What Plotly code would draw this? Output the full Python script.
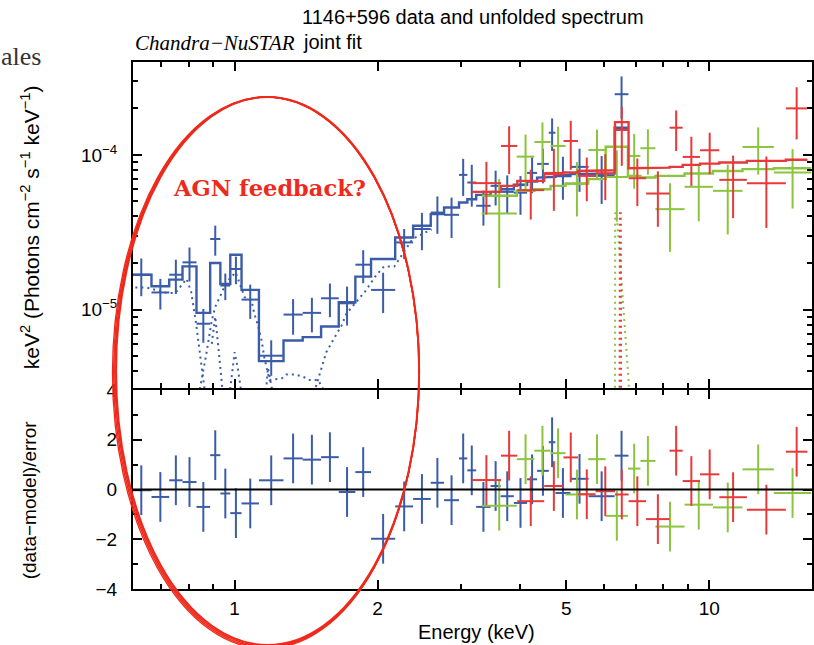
import numpy as np
import plotly.graph_objects as go

# ---------------- data ----------------
# Chandra ACIS (blue): bin edges (keV), unfolded flux, 1-sigma error, model, residual
acis_edges = [0.605, 0.668, 0.728, 0.7765, 0.831, 0.888, 0.933, 0.979, 1.034, 1.125,
              1.2675, 1.391, 1.521, 1.657, 1.796, 1.938, 2.179, 2.377, 2.589, 2.762,
              2.970, 3.092, 3.228, 3.462, 3.634, 3.875, 4.132, 4.337, 4.590, 4.741,
              5.098, 5.570, 6.318, 6.757]
acis_flux = [1.68, 1.29, 1.68, 2.02, 0.81, 2.86, 1.43, 1.83, 1.16, 0.503, 0.928, 0.952,
             1.183, 1.098, 1.951, 1.34, 2.718,
             3.32, 4.24, 4.10, 7.43, 6.63, 4.69, 6.31, 5.77, 5.7, 7.65, 8.75, 13.92,
             7.43, 8.37, 7.32, 24.7]
acis_err = [0.46, 0.29, 0.42, 0.50, 0.20, 0.63, 0.28, 0.37, 0.29, 0.13, 0.24, 0.24,
            0.29, 0.31, 0.47, 0.39, 0.6,
            0.9, 1.15, 1.2, 2.0, 2.0, 1.2, 1.6, 1.6, 1.6, 2.0, 2.2, 3.3, 2.3, 2.6, 2.5, 7.5]
acis_model = [1.68, 1.414, 1.561, 1.903, 0.952, 2.0, 1.464, 2.264, 1.34, 0.464, 0.631,
              0.663, 0.777, 1.114, 1.632, 2.124, 2.926,
              3.48, 4.14, 4.57, 4.92, 5.17, 5.52, 5.77, 6.0, 6.41, 6.73, 7.14, 7.21,
              7.29, 7.51, 7.58, 15.0]
acis_resid = [-0.03, -0.3, 0.37, 0.3, -0.7, 1.38, -0.16, -0.95, -0.56, 0.37, 1.25, 1.2,
              1.3, -0.1, 0.7, -1.98, -0.68,
              -0.38, 0.27, -0.43, 1.25, 0.77, -0.7, 0.14, -0.27, -0.54, 0.41, 0.75, 1.9,
              -0.14, 0.43, -0.27, 1.36]

# NuSTAR FPMA (red)
fpma_edges = [3.16, 3.64, 3.94, 4.49, 4.93, 5.29, 5.76, 6.33, 6.76, 7.36, 8.25, 8.79,
              9.56, 10.5, 12.0, 14.5, 16.1]
fpma_flux = [6.57, 11.43, 5.92, 7.65, 12.31, 7.32, 7.6, 14.5, 7.07, 5.63, 15.0, 9.71,
             10.72, 6.9, 6.57, 20.0]
fpma_err = [2.45, 3.9, 2.1, 3.3, 4.3, 2.3, 2.5, 6.0, 2.4, 2.2, 4.4, 3.4, 3.2, 3.0, 3.2, 7.4]
fpma_model = [5.77, 6.31, 6.8, 7.51, 7.69, 7.88, 7.96, 16.3, 8.2, 8.28, 8.37, 8.62,
              8.79, 8.93, 9.15, 9.3]
fpma_resid = [0.38, 1.36, -0.47, 0.14, 1.29, -0.19, -0.07, -0.2, -0.47, -1.19, 1.56,
              0.34, 0.61, -0.31, -0.81, 1.52]

# NuSTAR FPMB (green)
fpmb_edges = [3.315, 3.93, 4.28, 4.63, 4.98, 5.56, 6.05, 6.74, 7.16, 7.70, 8.87, 10.18,
              11.75, 13.68, 16.4]
fpmb_flux = [4.18, 9.75, 12.13, 11.43, 6.5, 10.77, 7.2, 9.85, 11.05, 4.46, 6.22, 5.86,
             11.26, 7.7]
fpmb_err = [2.8, 3.8, 4.1, 3.8, 2.5, 3.8, 3.5, 3.8, 3.6, 2.1, 2.5, 2.8, 3.8, 3.2]
fpmb_model = [5.44, 5.86, 6.0, 6.31, 6.54, 6.97, 11.3, 7.32, 7.14, 7.32, 7.58, 7.88,
              8.09, 8.2]
fpmb_resid = [-0.65, 1.22, 1.56, 1.46, -0.2, 1.22, -1.06, 0.84, 1.15, -1.49, -0.61,
              -0.72, 0.81, -0.14]

# additive model components (dotted), flux in units of 1e-5
therm1_e = [0.60, 0.65, 0.69, 0.72, 0.75, 0.775, 0.792, 0.81, 0.83, 0.85, 0.87]
therm1_f = [1.39, 1.39, 1.33, 1.28, 1.28, 1.45, 1.58, 1.30, 0.80, 0.45, 0.26]
therm2_e = [0.84, 0.87, 0.895, 0.91, 0.93, 0.96, 1.005, 1.05, 1.085, 1.10, 1.12, 1.14,
            1.156, 1.185, 1.26, 1.285, 1.34, 1.39, 1.44, 1.50, 1.55]
therm2_f = [0.28, 0.5, 0.85, 1.04, 1.2, 1.5, 1.74, 1.2, 1.15, 0.94, 0.79, 0.63, 0.48,
            0.35, 0.36, 0.38, 0.38, 0.37, 0.35, 0.35, 0.29]
lines_e = [0.895, 0.91, 0.925, 0.945, None, 0.975, 1.0, 1.015, 1.035, None, 1.165, 1.175, 1.20]
lines_f = [0.60, 0.90, 0.55, 0.28, None, 0.28, 0.53, 0.42, 0.28, None, 0.30, 0.42, 0.30]
plaw_e = [1.47, 1.52, 1.56, 1.61, 1.65, 1.68, 1.72, 1.80, 1.89, 1.985, 2.065, 2.17, 2.37, 2.6]
plaw_f = [0.29, 0.40, 0.53, 0.63, 0.72, 0.79, 0.94, 1.11, 1.33, 1.66, 1.90, 1.90, 2.86, 3.3]
fe_a_e = [6.47, 6.48, 6.51, 6.52]
fe_a_f = [0.20, 4.2, 4.2, 0.20]
fe_b_e = [6.33, 6.335, 6.38, 6.76, 6.8]
fe_b_f = [0.20, 4.2, 4.2, 0.35, 0.20]

x_ticks = [1, 2, 5, 10]
x_minor = [0.7, 0.8, 0.9, 3, 4, 6, 7, 8, 9]
y_ticks = [1e-5, 1e-4]
y_ticktext = ["10<sup>\u22125</sup>", "10<sup>\u22124</sup>"]
y_minor = [4e-6, 5e-6, 6e-6, 7e-6, 8e-6, 9e-6,
           2e-5, 3e-5, 4e-5, 5e-5, 6e-5, 7e-5, 8e-5, 9e-5, 2e-4, 3e-4]
r_ticks = [-4, -2, 0, 2, 4]
r_minor = [-3, -1, 1, 3]

UNIT = 1e-5
BLUE = "#3b5ca8"
RED = "#e8393a"
GREEN = "#8cc43f"
MARK = "#ee2a1c"

# ---------------- geometry (pixels) ----------------
W, H = 814, 645
L, R, T, B = 133, 0, 62, 56
MID_TOP = 388      # bottom edge of the spectrum panel
MID_BOT = 390      # top edge of the residual panel
PW, PH = W - L - R, H - T - B


def px(xp):
    return (xp - L) / PW


def py(yp):
    return (H - B - yp) / PH


fig = go.Figure()


def crosses(edges, vals, errs, color, xa, ya, scale=1.0):
    lo = np.array(edges[:-1])
    hi = np.array(edges[1:])
    c = np.sqrt(lo * hi)
    v = np.array(vals) * scale
    e = np.array(errs) * scale
    fig.add_trace(go.Scatter(
        x=c, y=v, mode="markers", marker=dict(size=1, color=color),
        error_x=dict(type="data", symmetric=False, array=hi - c, arrayminus=c - lo,
                     thickness=2, width=0, color=color),
        error_y=dict(type="data", array=e, thickness=2, width=0, color=color),
        xaxis=xa, yaxis=ya, showlegend=False, hoverinfo="skip"))


def steps(edges, model, color):
    xs, ys = [], []
    for lo, hi, m in zip(edges[:-1], edges[1:], model):
        xs += [lo, hi]
        ys += [m * UNIT, m * UNIT]
    fig.add_trace(go.Scatter(x=xs, y=ys, mode="lines", line=dict(color=color, width=2.4),
                             xaxis="x", yaxis="y", showlegend=False, hoverinfo="skip"))


def dotted(es, fs, color):
    ys = [None if f is None else f * UNIT for f in fs]
    fig.add_trace(go.Scatter(x=es, y=ys, mode="lines",
                             line=dict(color=color, width=2, dash="2px,4px"),
                             connectgaps=False, xaxis="x", yaxis="y",
                             showlegend=False, hoverinfo="skip"))


# model components
dotted(therm1_e, therm1_f, BLUE)
dotted(therm2_e, therm2_f, BLUE)
dotted(lines_e, lines_f, BLUE)
dotted(plaw_e, plaw_f, BLUE)
dotted(fe_b_e, fe_b_f, GREEN)
dotted(fe_a_e, fe_a_f, RED)

# total models and data, upper panel
steps(acis_edges, acis_model, BLUE)
crosses(acis_edges, acis_flux, acis_err, BLUE, "x", "y", UNIT)
steps(fpmb_edges, fpmb_model, GREEN)
crosses(fpmb_edges, fpmb_flux, fpmb_err, GREEN, "x", "y", UNIT)
steps(fpma_edges, fpma_model, RED)
crosses(fpma_edges, fpma_flux, fpma_err, RED, "x", "y", UNIT)

# residuals, lower panel
crosses(acis_edges, acis_resid, [1.0] * len(acis_resid), BLUE, "x2", "y2")
crosses(fpmb_edges, fpmb_resid, [1.0] * len(fpmb_resid), GREEN, "x2", "y2")
crosses(fpma_edges, fpma_resid, [1.0] * len(fpma_resid), RED, "x2", "y2")

FONT = "Liberation Sans"
axis_common = dict(showline=True, linecolor="black", linewidth=2, mirror="ticks",
                   ticks="inside", ticklen=9, tickwidth=1.5, tickcolor="black",
                   showgrid=False, zeroline=False,
                   tickfont=dict(family=FONT, size=19, color="black"))
minor_common = dict(ticks="inside", ticklen=5, tickwidth=1.5, tickcolor="black")

xrange = [np.log10(0.6107), np.log10(16.46)]
fig.update_layout(
    width=W, height=H, margin=dict(l=L, r=R, t=T, b=B),
    paper_bgcolor="white", plot_bgcolor="white",
    xaxis=dict(type="log", range=xrange, anchor="y", domain=[0, 1],
               tickvals=x_ticks, showticklabels=False,
               minor=dict(tickvals=x_minor, **minor_common),
               **axis_common),
    xaxis2=dict(type="log", range=xrange, anchor="y2", domain=[0, 1], matches="x",
                tickvals=x_ticks, ticktext=[str(v) for v in x_ticks],
                ticklabelstandoff=1,
                minor=dict(tickvals=x_minor, **minor_common),
                **axis_common),
    yaxis=dict(type="log", range=[np.log10(3.11e-6), np.log10(3.99e-4)], anchor="x",
               domain=[py(MID_TOP), 1], tickvals=y_ticks, ticktext=y_ticktext,
               ticklabelstandoff=10,
               minor=dict(tickvals=y_minor, **minor_common),
               **axis_common),
    yaxis2=dict(range=[-4, 4], anchor="x2", domain=[0, py(MID_BOT)],
                tickvals=r_ticks, ticktext=[str(v).replace("-", "\u2212") for v in r_ticks],
                ticklabelstandoff=10,
                minor=dict(tickvals=r_minor, **minor_common),
                **axis_common),
)

shapes = [dict(type="line", xref="x2 domain", yref="y2", x0=0, x1=1, y0=0, y1=0,
               line=dict(color="black", width=2), layer="above")]

# hand-drawn ellipse around the soft band: a few close strokes that fan out
# slightly towards the lower left and merge towards the upper right
for d, w in [(0.0, 2.0), (0.6, 1.6), (1.2, 1.5), (1.8, 1.3)]:
    cx, cy, a, b = 268 - d, 371 + d, 152 + d, 274 + d
    shapes.append(dict(type="circle", xref="paper", yref="paper",
                       x0=px(cx - a), x1=px(cx + a), y0=py(cy + b), y1=py(cy - b),
                       line=dict(color=MARK, width=w), layer="above"))
fig.update_layout(shapes=shapes)

ann = [
    dict(text="1146+596 data and unfolded spectrum", x=px(474), y=py(17),
         font=dict(family=FONT, size=20, color="black")),
    dict(text="<i>Chandra\u2212NuSTAR</i>", x=px(133), y=py(43), xanchor="left",
         font=dict(family="Liberation Serif", size=21, color="black")),
    dict(text="joint fit", x=px(301), y=py(42), xanchor="left",
         font=dict(family=FONT, size=20, color="black")),
    dict(text="Energy (keV)", x=px(478), y=py(632),
         font=dict(family=FONT, size=20, color="black")),
    dict(text="keV<sup>2</sup> (Photons cm<sup>\u22122</sup> s<sup>\u22121</sup> keV<sup>\u22121</sup>)",
         x=px(30), y=py(227), textangle=-90,
         font=dict(family=FONT, size=21, color="black")),
    dict(text="(data\u2212model)/error", x=px(30), y=py(500), textangle=-90,
         font=dict(family=FONT, size=19, color="black")),
    dict(text="<b>AGN feedback?</b>", x=px(270), y=py(188),
         font=dict(family="DejaVu Serif", size=22.5, color=MARK)),
    dict(text="ales", x=px(43), y=py(57), xanchor="right",
         font=dict(family="Liberation Serif", size=26, color="#333333")),
]
for a in ann:
    a.setdefault("xanchor", "center")
    a.update(xref="paper", yref="paper", yanchor="middle", showarrow=False)
fig.update_layout(annotations=ann)

fig.write_html("out.html")
